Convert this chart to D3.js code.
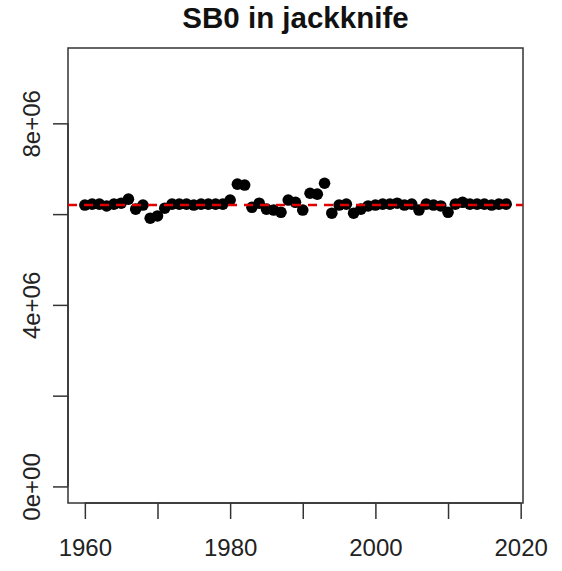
<!DOCTYPE html>
<html><head><meta charset="utf-8">
<script src="https://cdn.jsdelivr.net/npm/d3@7"></script>
<style>body{margin:0;background:#fff}svg{display:block}</style>
</head><body>
<script>
const years = d3.range(1960, 2019);
const sb0 = [6.20,6.22,6.22,6.18,6.22,6.24,6.33,6.11,6.20,5.91,
             5.96,6.13,6.22,6.22,6.22,6.20,6.22,6.22,6.22,6.22,
             6.31,6.66,6.64,6.15,6.24,6.11,6.09,6.04,6.31,6.26,
             6.09,6.46,6.44,6.68,6.02,6.20,6.22,6.02,6.11,6.18,
             6.20,6.22,6.22,6.24,6.20,6.22,6.09,6.22,6.20,6.18,
             6.04,6.22,6.26,6.22,6.22,6.22,6.20,6.22,6.22].map(v => v * 1e6);
const refValue = 6.2e6;
const xTicks = [1960, 1970, 1980, 1990, 2000, 2010, 2020];
const xTickLabels = ["1960", "", "1980", "", "2000", "", "2020"];
const yTicks = [0, 2e6, 4e6, 6e6, 8e6];
const yTickLabels = ["0e+00", "", "4e+06", "", "8e+06"];
const yLimits = [-0.365e6, 9.66e6];
const title = "SB0 in jackknife";

const W = 562, H = 571;
const L = 68, R = 523, T = 48, B = 503;
const svg = d3.select("body").append("svg").attr("width", W).attr("height", H);

const xr = [1960, 2018], xp = (xr[1] - xr[0]) * 0.04;
const x = d3.scaleLinear().domain([xr[0] - xp, xr[1] + xp]).range([L, R]);
const y = d3.scaleLinear().domain(yLimits).range([B, T]);

const font = "'Liberation Sans', Arial, sans-serif";

// x axis
const xAxis = d3.axisBottom(x).tickValues(xTicks).tickSize(16).tickPadding(20)
  .tickFormat((d, i) => xTickLabels[i]);
const gx = svg.append("g").attr("transform", `translate(0,${B})`).call(xAxis);
gx.select(".domain").attr("d", `M${x(1960)},0H${x(2020)}`).attr("stroke", "#333").attr("stroke-width", 1.5);
gx.selectAll(".tick line").attr("stroke", "#333").attr("stroke-width", 1.5);
gx.selectAll(".tick text").attr("font-family", font).attr("font-size", 24).attr("fill", "#222");

// y axis
const yAxis = d3.axisLeft(y).tickValues(yTicks).tickSize(15).tickPadding(0)
  .tickFormat((d, i) => yTickLabels[i]);
const gy = svg.append("g").attr("transform", `translate(${L},0)`).call(yAxis);
gy.select(".domain").attr("d", `M0,${y(0)}V${y(8e6)}`).attr("stroke", "#333").attr("stroke-width", 1.5);
gy.selectAll(".tick line").attr("stroke", "#333").attr("stroke-width", 1.5);
gy.selectAll(".tick text")
  .attr("font-family", font).attr("font-size", 24).attr("fill", "#222")
  .attr("text-anchor", "middle").attr("dy", null).attr("x", null)
  .attr("transform", "translate(-28,0) rotate(-90)");

// box
svg.append("rect").attr("x", L).attr("y", T).attr("width", R - L).attr("height", B - T)
  .attr("fill", "none").attr("stroke", "#333").attr("stroke-width", 1.5);

// points
svg.append("g").selectAll("circle").data(years).join("circle")
  .attr("cx", d => x(d)).attr("cy", (d, i) => y(sb0[i])).attr("r", 5.8).attr("fill", "#000");

// reference line (abline drawn after points)
svg.append("line").attr("x1", L).attr("x2", R).attr("y1", y(refValue)).attr("y2", y(refValue))
  .attr("stroke", "#e00000").attr("stroke-width", 2.5).attr("stroke-dasharray", "9,7");

// title
svg.append("text").attr("x", (L + R) / 2).attr("y", 28).attr("text-anchor", "middle")
  .attr("font-family", font).attr("font-weight", "bold").attr("font-size", 29.5).attr("fill", "#111")
  .text(title);
</script>
</body></html>
